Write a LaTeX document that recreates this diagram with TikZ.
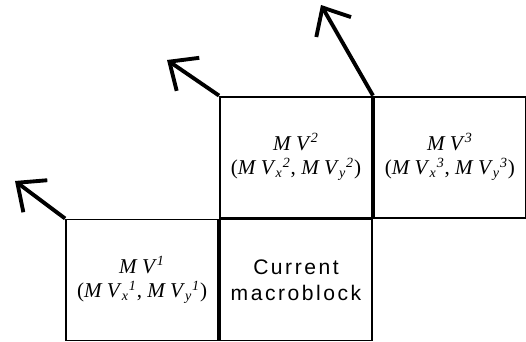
\documentclass[tikz,border=0pt]{standalone}
\usepackage{amsmath}
\usepackage{fontspec}
\setmainfont{Liberation Serif}
\newfontfamily\mbfont[LetterSpace=12]{Liberation Sans}
\usepackage{tikz}
\usetikzlibrary{arrows.meta,positioning}

% motion vector labels
\newcommand{\mvlab}[1]{\textit{M V}$^{\textit{#1}}$\\(\textit{M V}$_{\textit{x}}{}^{\textit{#1}}$, \textit{M V}$_{\textit{y}}{}^{\textit{#1}}$)}

\begin{document}
\begin{tikzpicture}[
			>={Straight Barb[length=4.5mm,width=8mm,line width=2.2pt]},
			block/.style={draw, line width=1.1pt, minimum width=3.04cm, minimum height=2.42cm, inner sep=0pt, align=center, font=\large},
			mvarrow/.style={->, line width=2.2pt}
			]
			% bounding box: same proportions as the figure
			\useasboundingbox (0,0) rectangle (10.52,6.82);
			
			% the four macroblocks
			\node[block] (cur) at (5.92,1.22) {{\mbfont Current}\\[1pt]{\mbfont macroblock}};
			\node[block, left=0pt of cur] (mv1) {\mvlab{1}};
			\node[block, above=0pt of cur] (mv2) {\mvlab{2}};
			\node[block, right=0pt of mv2] (mv3) {\mvlab{3}};
			
			% end points of the motion vectors
			\coordinate (tip1) at (0.30,3.20);
			\coordinate (tip2) at (3.34,5.62);
			\coordinate (tip3) at (6.42,6.72);
			
			% motion vectors
			\draw[mvarrow] (mv1.north west) -- (tip1);
			\draw[mvarrow] (mv2.north west) -- (tip2);
			\draw[mvarrow] (mv3.north west) -- (tip3);
			
		\end{tikzpicture}
\end{document}
